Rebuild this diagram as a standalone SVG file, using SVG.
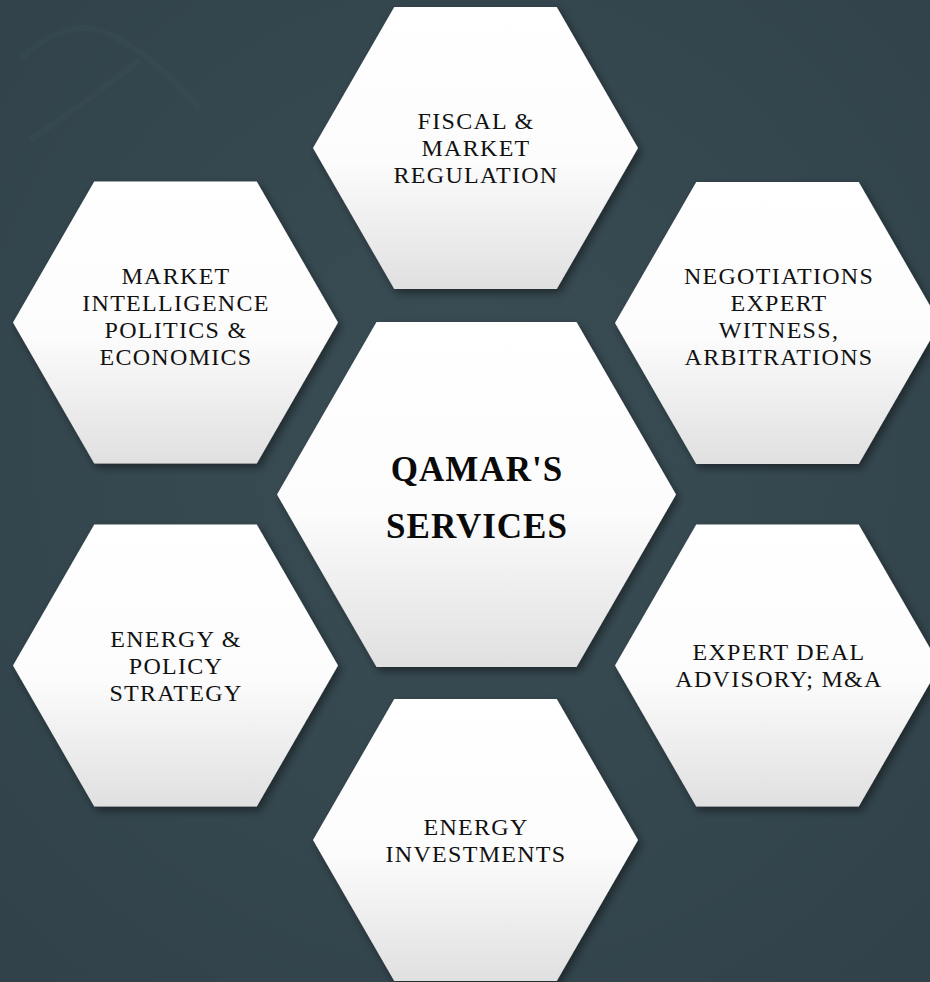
<svg xmlns="http://www.w3.org/2000/svg" xmlns:xlink="http://www.w3.org/1999/xlink" width="930" height="982" viewBox="0 0 930 982">
  <defs>
    <radialGradient id="bg" cx="50%" cy="45%" r="75%">
      <stop offset="0" stop-color="#3a4d55"/>
      <stop offset="1" stop-color="#304149"/>
    </radialGradient>
    <linearGradient id="hexFill" x1="0" y1="0" x2="0" y2="1">
      <stop offset="0" stop-color="#ffffff"/>
      <stop offset="0.55" stop-color="#fcfcfc"/>
      <stop offset="1" stop-color="#e0e0e0"/>
    </linearGradient>
    <filter id="shadow" x="-20%" y="-20%" width="140%" height="140%">
      <feDropShadow dx="3" dy="4" stdDeviation="4" flood-color="#000" flood-opacity="0.45"/>
    </filter>
    <polygon id="hexS" points="-162.5,0 -81.25,-141 81.25,-141 162.5,0 81.25,141 -81.25,141"/>
    <polygon id="hexL" points="-199.5,0 -100,-172.5 100,-172.5 199.5,0 100,172.5 -100,172.5"/>
  </defs>
  <style>
    .hex { fill: url(#hexFill); filter: url(#shadow); }
    .lbl { font-family: "Liberation Serif", "DejaVu Serif", serif; font-size: 24px; letter-spacing: 1.3px; fill: #111; text-anchor: middle; }
    .title { font-family: "Liberation Serif", "DejaVu Serif", serif; font-size: 35px; font-weight: bold; letter-spacing: 1px; fill: #0a0a0a; text-anchor: middle; }
    .streak { fill: none; stroke: #4a5e66; stroke-opacity: 0.15; stroke-width: 6; }
  </style>

  <rect x="0" y="0" width="930" height="982" fill="url(#bg)"/>
  <g id="background-texture">
    <path class="streak" d="M20 60 Q 60 20 100 30 Q 150 50 200 110"/>
    <path class="streak" d="M30 140 Q 90 100 140 60"/>
    <path class="streak" d="M860 740 Q 900 700 930 690"/>
  </g>

  <g id="connectors"/>

  <g id="node-fiscal">
    <use xlink:href="#hexS" class="hex" transform="translate(475.5,148)"/>
    <text class="lbl" x="476" y="129">FISCAL &amp;</text>
    <text class="lbl" x="476" y="156">MARKET</text>
    <text class="lbl" x="476" y="183">REGULATION</text>
  </g>

  <g id="node-market-intelligence">
    <use xlink:href="#hexS" class="hex" transform="translate(175.5,322.5)"/>
    <text class="lbl" x="176" y="284">MARKET</text>
    <text class="lbl" x="176" y="311">INTELLIGENCE</text>
    <text class="lbl" x="176" y="338">POLITICS &amp;</text>
    <text class="lbl" x="176" y="365">ECONOMICS</text>
  </g>

  <g id="node-negotiations">
    <use xlink:href="#hexS" class="hex" transform="translate(777.5,323)"/>
    <text class="lbl" x="779" y="284">NEGOTIATIONS</text>
    <text class="lbl" x="779" y="311">EXPERT</text>
    <text class="lbl" x="779" y="338">WITNESS,</text>
    <text class="lbl" x="779" y="365">ARBITRATIONS</text>
  </g>

  <g id="node-energy-policy">
    <use xlink:href="#hexS" class="hex" transform="translate(175.5,665.5)"/>
    <text class="lbl" x="176" y="647">ENERGY &amp;</text>
    <text class="lbl" x="176" y="674">POLICY</text>
    <text class="lbl" x="176" y="701">STRATEGY</text>
  </g>

  <g id="node-deal-advisory">
    <use xlink:href="#hexS" class="hex" transform="translate(777.5,665.5)"/>
    <text class="lbl" x="779" y="660">EXPERT DEAL</text>
    <text class="lbl" x="779" y="687">ADVISORY; M&amp;A</text>
  </g>

  <g id="node-energy-investments">
    <use xlink:href="#hexS" class="hex" transform="translate(475.5,840)"/>
    <text class="lbl" x="476" y="835">ENERGY</text>
    <text class="lbl" x="476" y="862">INVESTMENTS</text>
  </g>

  <g id="node-center">
    <use xlink:href="#hexL" class="hex" transform="translate(476.5,494.5)"/>
    <text class="title" x="477" y="481">QAMAR'S</text>
    <text class="title" x="477" y="538">SERVICES</text>
  </g>
</svg>
